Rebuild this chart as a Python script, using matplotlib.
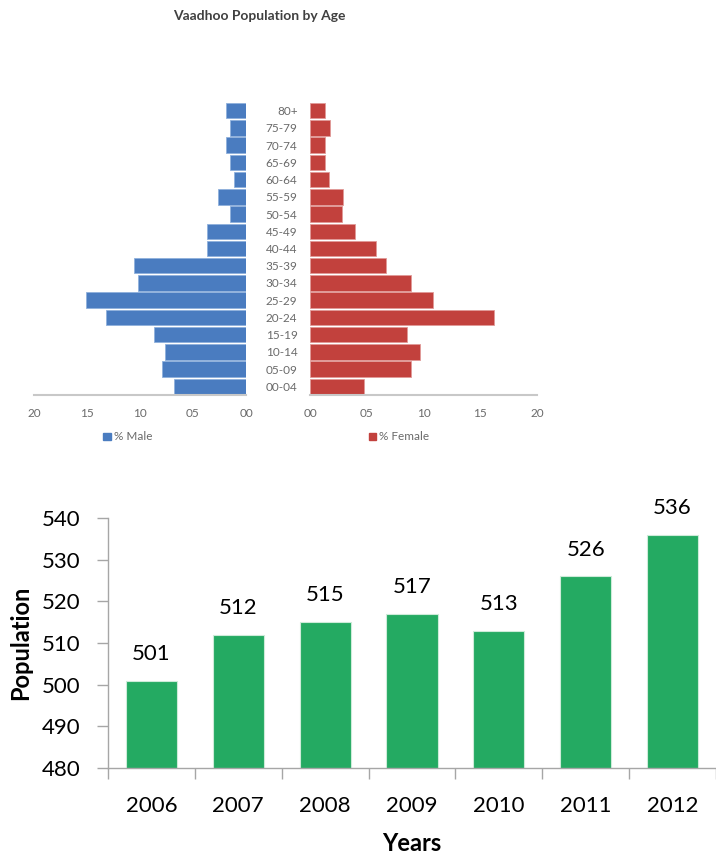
import numpy as np
import matplotlib
matplotlib.use("Agg")
import matplotlib.pyplot as plt
from matplotlib.patches import Patch

plt.rcParams['font.family'] = ['Lato', 'DejaVu Sans']

# population pyramid (percent)
age_groups = ['00-04', '05-09', '10-14', '15-19', '20-24', '25-29', '30-34',
              '35-39', '40-44', '45-49', '50-54', '55-59', '60-64', '65-69',
              '70-74', '75-79', '80+']
male_pct = [6.8, 7.9, 7.6, 8.7, 13.2, 15.1, 10.2, 10.6, 3.7, 3.7,
            1.5, 2.6, 1.1, 1.5, 1.9, 1.5, 1.9]
female_pct = [4.75, 8.9, 9.7, 8.55, 16.2, 10.8, 8.9, 6.7, 5.85, 4.0,
              2.85, 2.9, 1.7, 1.35, 1.35, 1.77, 1.35]
pyr_ticks = [0, 5, 10, 15, 20]
pyr_tick_labels = ['00', '05', '10', '15', '20']

# yearly population
years = ['2006', '2007', '2008', '2009', '2010', '2011', '2012']
population = [501, 512, 515, 517, 513, 526, 536]

W, H = 716, 856
fig = plt.figure(figsize=(W / 100, H / 100), dpi=100)


def px_axes(left, top, right, bottom):
    return fig.add_axes([left / W, 1 - bottom / H, (right - left) / W, (bottom - top) / H])


blue = '#4A7CC0'
red = '#C2413D'
grey_txt = '#6A6A6A'

y = np.arange(len(age_groups))

# --- male side
ax_m = px_axes(34, 102, 246, 395)
ax_m.barh(y, male_pct, height=0.9, color=blue, edgecolor='#8FB0DC', linewidth=0.6)
ax_m.set_xlim(20, 0)
ax_m.set_ylim(-0.5, len(age_groups) - 0.5)
ax_m.set_yticks([])
ax_m.set_xticks(pyr_ticks)
ax_m.set_xticklabels(pyr_tick_labels)

# --- female side
ax_f = px_axes(310, 102, 537, 395)
ax_f.barh(y, female_pct, height=0.9, color=red, edgecolor='#E09A98', linewidth=0.6)
ax_f.set_xlim(0, 20)
ax_f.set_ylim(-0.5, len(age_groups) - 0.5)
ax_f.set_yticks(y)
ax_f.set_yticklabels(age_groups)
ax_f.set_xticks(pyr_ticks)
ax_f.set_xticklabels(pyr_tick_labels)
ax_f.tick_params(axis='y', length=0, pad=9, labelsize=8.5, labelcolor=grey_txt)

for ax in (ax_m, ax_f):
    for s in ('top', 'left', 'right'):
        ax.spines[s].set_visible(False)
    ax.spines['bottom'].set_color('#C8C8C8')
    ax.spines['bottom'].set_linewidth(1.5)
    ax.tick_params(axis='x', length=0, pad=9, labelsize=8.5, labelcolor=grey_txt)
    ax.set_zorder(2)

fig.text(259 / W, 1 - 16 / H, 'Vaadhoo Population by Age', ha='center', va='center',
         fontsize=10, fontweight='bold', color='#404040')

fig.legend(handles=[Patch(color=blue, label='% Male')], loc='center',
           bbox_to_anchor=(128 / W, 1 - 437 / H), frameon=False, fontsize=8.5,
           handlelength=0.6, handleheight=0.6, handletextpad=0.3, labelcolor=grey_txt)
fig.legend(handles=[Patch(color=red, label='% Female')], loc='center',
           bbox_to_anchor=(399 / W, 1 - 437 / H), frameon=False, fontsize=8.5,
           handlelength=0.6, handleheight=0.6, handletextpad=0.3, labelcolor=grey_txt)

# --- population by year
ax_b = px_axes(108, 518, 716, 768)
x = np.arange(len(years))
ax_b.bar(x, population, width=0.59, color='#24AA62', edgecolor='#CDEBD9', linewidth=0.8,
         zorder=2)
ax_b.set_ylim(480, 540)
ax_b.set_xlim(-0.5, -0.5 + 608 / 88)
ax_b.set_yticks(np.arange(480, 541, 10))
ax_b.set_xticks(x)
ax_b.set_xticklabels(years)
ax_b.set_xticks(np.arange(-0.5, len(years), 1), minor=True)
ax_b.tick_params(axis='x', which='major', length=0, pad=20, labelsize=16)
ax_b.tick_params(axis='x', which='minor', length=8, width=1, color='#A6A6A6', direction='out')
ax_b.tick_params(axis='y', length=8, width=1, color='#A6A6A6', labelsize=16, pad=12)
for s in ('top', 'right'):
    ax_b.spines[s].set_visible(False)
for s in ('left', 'bottom'):
    ax_b.spines[s].set_color('#A6A6A6')
    ax_b.spines[s].set_linewidth(1)

for xi, v in zip(x, population):
    ax_b.annotate(str(v), (xi, v), xytext=(0, 12), textcoords='offset points',
                  ha='center', va='bottom', fontsize=16)

ax_b.set_ylabel('Population', fontsize=17, fontweight='bold', labelpad=7)
ax_b.set_xlabel('Years', fontsize=17, fontweight='bold', labelpad=12)

fig.savefig('out.png', dpi=100)
